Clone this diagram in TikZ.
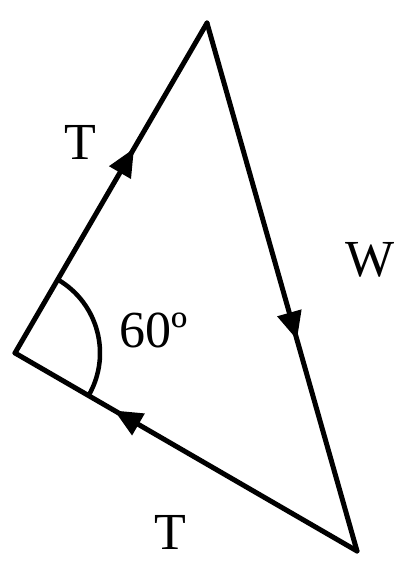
\documentclass[tikz,border=0pt]{standalone}
\usepackage{fontspec}
\setmainfont{Liberation Serif}
\usetikzlibrary{arrows.meta,decorations.markings}
\begin{document}
\begin{tikzpicture}[x=1pt,y=-1pt,
  side/.style={line width=5pt,line cap=round,line join=miter},
  midarrow/.style={postaction={decorate},decoration={markings,mark=at position #1 with {\arrow{Triangle[length=28pt,width=24pt]}}}},
  lbl/.style={font=\fontsize{52}{56}\selectfont,inner sep=0pt}]
\useasboundingbox (0,0) rectangle (402,567);
\coordinate (L) at (15,353);
\coordinate (Tp) at (207,23);
\coordinate (R) at (357,551);
\draw[side,midarrow=0.62] (L) -- (Tp);
\draw[side,midarrow=0.60] (Tp) -- (R);
\draw[side,midarrow=0.71] (R) -- (L);
\draw[line width=4.5pt] ([shift={(-59.8:85)}]L) arc[start angle=-59.8,end angle=30.1,radius=85];
\node[lbl] (t1) at (80,142) {T};
\node[lbl] (w) at (370,260) {W};
\node[lbl] (a) at (154,330) {60º};
\node[lbl] (t2) at (170,532) {T};
\end{tikzpicture}
\end{document}
